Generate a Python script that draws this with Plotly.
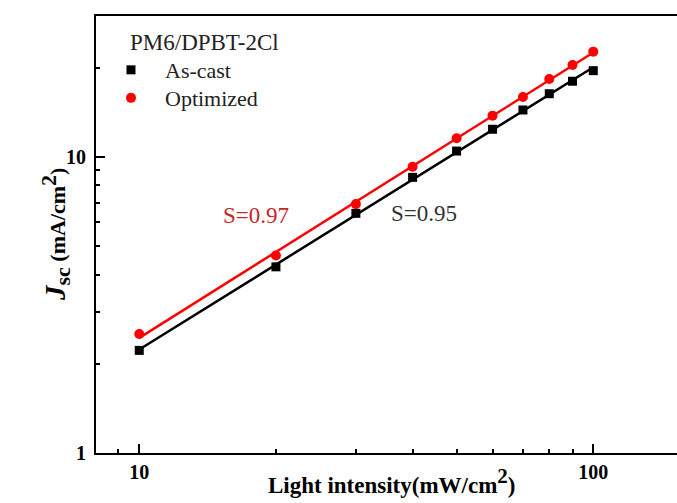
import numpy as np
import plotly.graph_objects as go

# Data
intensity = [10, 20, 30, 40, 50, 60, 70, 80, 90, 100]
jsc_ascast = [2.22, 4.25, 6.44, 8.52, 10.45, 12.38, 14.38, 16.32, 17.98, 19.52]
jsc_optimized = [2.52, 4.64, 6.92, 9.25, 11.54, 13.76, 15.91, 18.30, 20.40, 22.63]
x_tickvals = [10, 100]
x_minor = [9, 20, 30, 40, 50, 60, 70, 80, 90]
y_tickvals = [1, 10]
y_minor = [2, 3, 4, 5, 6, 7, 8, 9, 20]
legend_title = "PM6/DPBT-2Cl"
names = ["As-cast", "Optimized"]
slope_labels = ["S=0.95", "S=0.97"]

FONT = "Liberation Serif, Times New Roman, serif"
LEG_FONT = dict(family=FONT, size=22, color="#222")


def fit_line(x, y):
    lx, ly = np.log10(x), np.log10(y)
    k, b = np.polyfit(lx, ly, 1)
    xs = np.array([min(x), max(x)], dtype=float)
    return xs, 10 ** (k * np.log10(xs) + b)


fig = go.Figure()
for y, name, color, sym, size, leg in [
    (jsc_ascast, names[0], "black", "square", 9, "legend"),
    (jsc_optimized, names[1], "#ff0000", "circle", 10, "legend2"),
]:
    fx, fy = fit_line(intensity, y)
    fig.add_trace(go.Scatter(x=fx, y=fy, mode="lines", line=dict(color=color, width=2.5),
                             showlegend=False, hoverinfo="skip"))
    fig.add_trace(go.Scatter(x=intensity, y=y, mode="markers", name=name, legend=leg,
                             marker=dict(color=color, symbol=sym, size=size)))


def px_to_py(p):
    return 1 - (p - 16) / 436.7


fig.update_layout(
    width=677, height=503,
    margin=dict(l=96, r=0, t=16, b=50),
    paper_bgcolor="white", plot_bgcolor="white",
    font=dict(family=FONT, color="black"),
    showlegend=True,
    legend=dict(x=0.0017, y=px_to_py(49), xanchor="left", yanchor="top",
                bgcolor="rgba(0,0,0,0)", font=LEG_FONT, itemwidth=58),
    legend2=dict(x=0.0017, y=px_to_py(77), xanchor="left", yanchor="top",
                 bgcolor="rgba(0,0,0,0)", font=LEG_FONT, itemwidth=58),
)

fig.update_xaxes(
    type="log", range=[np.log10(8.03), np.log10(152.9)],
    showline=True, linecolor="black", linewidth=2, mirror=True,
    showgrid=False, zeroline=False,
    ticks="inside", ticklen=9, tickwidth=2, tickcolor="black",
    tickvals=x_tickvals, ticktext=[str(v) for v in x_tickvals],
    tickfont=dict(family=FONT, size=20, color="black", weight="bold"),
    ticklabelstandoff=0,
    minor=dict(ticks="inside", ticklen=4, tickwidth=2, tickcolor="black",
               tickvals=x_minor, showgrid=False),
)
fig.update_yaxes(
    type="log", range=[0, 1.475],
    showline=True, linecolor="black", linewidth=2, mirror=False,
    showgrid=False, zeroline=False,
    ticks="inside", ticklen=9, tickwidth=2, tickcolor="black",
    tickvals=y_tickvals, ticktext=[str(v) for v in y_tickvals],
    tickfont=dict(family=FONT, size=20, color="black", weight="bold"),
    ticklabelstandoff=4,
    minor=dict(ticks="inside", ticklen=4, tickwidth=2, tickcolor="black",
               tickvals=y_minor, showgrid=False),
)

# Legend title
fig.add_annotation(xref="paper", yref="paper", x=(128 - 96) / 581, y=px_to_py(42),
                   xanchor="left", yanchor="middle", text=legend_title, showarrow=False,
                   font=dict(family=FONT, size=23, color="#222"))

# Slope labels
fig.add_annotation(x=1.627, y=0.81, text=slope_labels[0], showarrow=False,
                   font=dict(family=FONT, size=23, color="#333333"))
fig.add_annotation(x=np.log10(18.1), y=0.803, text=slope_labels[1], showarrow=False,
                   font=dict(family=FONT, size=23, color="#c62828"))

# Axis titles
fig.add_annotation(xref="paper", yref="paper", x=(391.5 - 96) / 581, y=-0.108,
                   text='<b>Light intensity(mW/cm<sup><span style="font-size:21px">2</span></sup>)</b>',
                   showarrow=False, font=dict(family=FONT, size=23, color="black"))
fig.add_annotation(xref="paper", yref="paper", x=-0.107, y=0.4997, textangle=-90,
                   text=('<b><i><span style="font-size:29px">J</span></i>'
                         '<sub><span style="font-size:22px">sc</span></sub>'
                         ' (mA/cm<sup><span style="font-size:22px">2</span></sup>)</b>'),
                   showarrow=False, font=dict(family=FONT, size=22, color="black"))

fig.write_html("out.html")
